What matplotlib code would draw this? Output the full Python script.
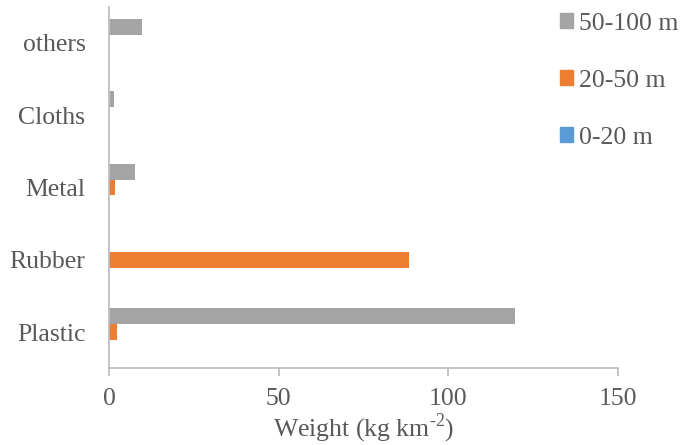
import matplotlib
matplotlib.use("Agg")
from matplotlib import pyplot as plt
from matplotlib.patches import Patch
import numpy as np

categories = ["Plastic", "Rubber", "Metal", "Cloths", "others"]
depth_0_20 = [0, 0, 0, 0, 0]
depth_20_50 = [2.5, 88.5, 1.8, 0, 0]
depth_50_100 = [119.5, 0, 7.8, 1.5, 9.7]
series_names = ["0-20 m", "20-50 m", "50-100 m"]
colors = ["#5B9BD5", "#ED7D31", "#A5A5A5"]

plt.rcParams['font.family'] = ['Liberation Serif', 'DejaVu Serif']
plt.rcParams['mathtext.fontset'] = 'custom'
plt.rcParams['mathtext.rm'] = 'Liberation Serif'
text_col = "#595959"
axis_col = "#BFBFBF"
fs = 18.5

fig = plt.figure(figsize=(6.84, 4.45), dpi=100)
ax = fig.add_axes([109/684, 1 - 368.3/445, (618-109)/684, 361.6/445])

y = np.arange(len(categories))
h = 0.221
all_vals = [depth_0_20, depth_20_50, depth_50_100]
for i, vals in enumerate(all_vals):
    ax.barh(y + (i - 1) * h, vals, height=h, color=colors[i], label=series_names[i])

ax.set_xlim(0, 150)
ax.set_ylim(-0.5, 4.5)
ax.set_xticks([0, 50, 100, 150])
ax.set_yticks(y)
ax.set_yticklabels(categories)
for s in ["top", "right"]:
    ax.spines[s].set_visible(False)
for s in ["left", "bottom"]:
    ax.spines[s].set_color(axis_col)
    ax.spines[s].set_linewidth(1.3)
ax.tick_params(axis="x", colors=axis_col, length=6, width=1.3, labelcolor=text_col, labelsize=fs, pad=8)
ax.tick_params(axis="y", length=0, labelcolor=text_col, labelsize=fs, pad=17)
ax.set_xlabel("Weight (kg km$^{\\text{-2}}$)", color=text_col, fontsize=fs, labelpad=1)

handles = [Patch(color=colors[i]) for i in range(3)][::-1]
fig.legend(handles, series_names[::-1], loc="upper left", bbox_to_anchor=(560/684, 0.971),
           frameon=False, fontsize=fs, labelcolor=text_col, handlelength=0.5, handleheight=0.5,
           handletextpad=0.23, labelspacing=1.36, borderpad=0, borderaxespad=0)

fig.savefig("out.png", dpi=100)
